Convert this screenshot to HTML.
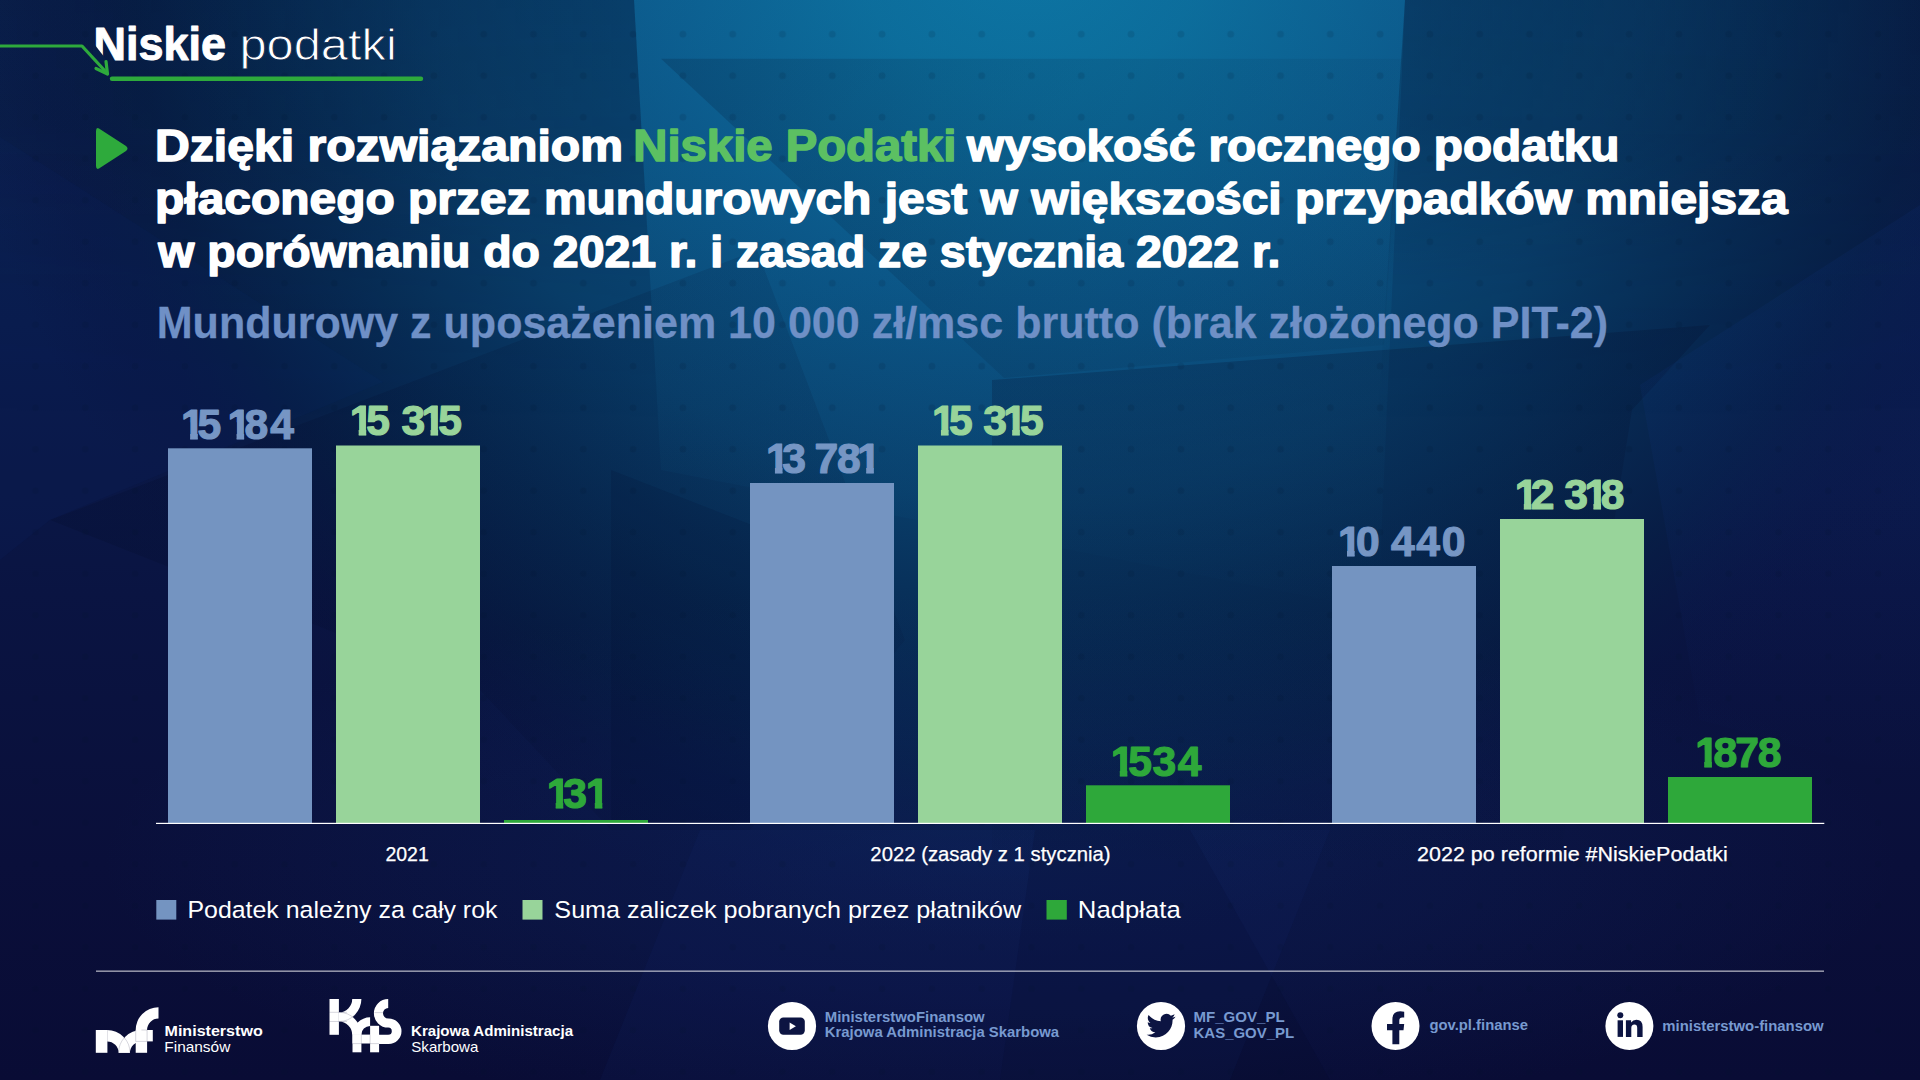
<!DOCTYPE html>
<html lang="pl">
<head>
<meta charset="utf-8">
<title>Niskie podatki – mundurowi</title>
<style>
  html, body { margin: 0; padding: 0; }
  body {
    width: 1920px; height: 1080px; overflow: hidden; position: relative;
    background: #0a0e38;
    font-family: "Liberation Sans", sans-serif;
  }
  svg#stage { position: absolute; left: 0; top: 0; width: 1920px; height: 1080px; display: block; }
  svg text { font-family: "Liberation Sans", sans-serif; }
  .b { font-weight: 700; }
</style>
</head>
<body>
<svg id="stage" viewBox="0 0 1920 1080" width="1920" height="1080">
  <defs>
    <linearGradient id="gBase" x1="0" y1="0" x2="0" y2="1">
      <stop offset="0" stop-color="#0b2350"/>
      <stop offset="0.3" stop-color="#0a1c4b"/>
      <stop offset="0.55" stop-color="#0a1442"/>
      <stop offset="0.8" stop-color="#0a0f3a"/>
      <stop offset="1" stop-color="#090c35"/>
    </linearGradient>
    <radialGradient id="gGlow" cx="1030" cy="-60" r="1000" gradientUnits="userSpaceOnUse" gradientTransform="translate(1030 -60) scale(1.08 1.0) translate(-1030 60)">
      <stop offset="0" stop-color="#0a6d99" stop-opacity="1"/>
      <stop offset="0.16" stop-color="#0a6490" stop-opacity="1"/>
      <stop offset="0.36" stop-color="#0a5080" stop-opacity="0.98"/>
      <stop offset="0.56" stop-color="#09406c" stop-opacity="0.95"/>
      <stop offset="0.72" stop-color="#072c54" stop-opacity="0.88"/>
      <stop offset="0.83" stop-color="#071f46" stop-opacity="0.8"/>
      <stop offset="0.93" stop-color="#091642" stop-opacity="0.35"/>
      <stop offset="1" stop-color="#0a1440" stop-opacity="0"/>
    </radialGradient>
    <radialGradient id="gHaze" cx="1000" cy="860" r="900" gradientUnits="userSpaceOnUse" gradientTransform="translate(1000 860) scale(1 0.3) translate(-1000 -860)">
      <stop offset="0" stop-color="#103c84" stop-opacity="0.24"/>
      <stop offset="0.5" stop-color="#103c84" stop-opacity="0.15"/>
      <stop offset="1" stop-color="#103c84" stop-opacity="0"/>
    </radialGradient>
    <linearGradient id="gBeam" x1="0" y1="0" x2="0" y2="620" gradientUnits="userSpaceOnUse">
      <stop offset="0" stop-color="#1590c8" stop-opacity="0.22"/>
      <stop offset="0.25" stop-color="#1590c8" stop-opacity="0.17"/>
      <stop offset="0.6" stop-color="#1590c8" stop-opacity="0.08"/>
      <stop offset="1" stop-color="#1590c8" stop-opacity="0"/>
    </linearGradient>
    <linearGradient id="gSideL" x1="635" y1="0" x2="0" y2="0" gradientUnits="userSpaceOnUse">
      <stop offset="0" stop-color="#04102e" stop-opacity="0.25"/>
      <stop offset="1" stop-color="#04102e" stop-opacity="0.12"/>
    </linearGradient>
    <linearGradient id="gSideR" x1="1400" y1="0" x2="1920" y2="0" gradientUnits="userSpaceOnUse">
      <stop offset="0" stop-color="#04102e" stop-opacity="0.30"/>
      <stop offset="1" stop-color="#04102e" stop-opacity="0.10"/>
    </linearGradient>
    <linearGradient id="gFadeDown" x1="0" y1="330" x2="0" y2="860" gradientUnits="userSpaceOnUse">
      <stop offset="0" stop-color="#041030" stop-opacity="0.26"/>
      <stop offset="1" stop-color="#041030" stop-opacity="0.05"/>
    </linearGradient>
    <linearGradient id="gFacetR" x1="0" y1="205" x2="0" y2="780" gradientUnits="userSpaceOnUse">
      <stop offset="0" stop-color="#1848c0" stop-opacity="0.07"/>
      <stop offset="0.5" stop-color="#1848c0" stop-opacity="0.06"/>
      <stop offset="1" stop-color="#1848c0" stop-opacity="0"/>
    </linearGradient>
    <linearGradient id="gVFade" x1="0" y1="0" x2="0" y2="420" gradientUnits="userSpaceOnUse">
      <stop offset="0" stop-color="#fff"/>
      <stop offset="0.3" stop-color="#ddd"/>
      <stop offset="0.68" stop-color="#333"/>
      <stop offset="1" stop-color="#000"/>
    </linearGradient>
    <mask id="mTop" maskUnits="userSpaceOnUse" x="0" y="0" width="1920" height="460"><rect width="1920" height="460" fill="url(#gVFade)"/></mask>
    <linearGradient id="gInner" x1="662" y1="0" x2="1400" y2="0" gradientUnits="userSpaceOnUse">
      <stop offset="0" stop-color="#04203f" stop-opacity="0.24"/>
      <stop offset="0.45" stop-color="#04203f" stop-opacity="0.15"/>
      <stop offset="1" stop-color="#04203f" stop-opacity="0.07"/>
    </linearGradient>
    <linearGradient id="gStar" x1="50" y1="0" x2="900" y2="0" gradientUnits="userSpaceOnUse">
      <stop offset="0" stop-color="#030c2c" stop-opacity="0.26"/>
      <stop offset="0.5" stop-color="#030c2c" stop-opacity="0.16"/>
      <stop offset="1" stop-color="#030c2c" stop-opacity="0.10"/>
    </linearGradient>
    <pattern id="dots" x="10.6" y="13.45" width="49.8" height="41.5" patternUnits="userSpaceOnUse">
      <circle cx="24.9" cy="20.75" r="3.5" fill="#03102c" fill-opacity="0.12"/>
    </pattern>
    <clipPath id="one"><path d="M-2,-31.95 H16.69 V1.28 H9.04 V-17.04 H-2 Z"/></clipPath>
  </defs>

  <!-- BACKGROUND -->
  <g id="bg">
    <rect width="1920" height="1080" fill="url(#gBase)"/>
    <rect width="1920" height="1080" fill="url(#gGlow)"/>
    <rect width="1920" height="1080" fill="url(#gHaze)"/>
    <g id="polys">
      <!-- central light beam -->
      <polygon points="634,0 1405,0 1378,610 661,470" fill="url(#gBeam)"/>
      <!-- darker sides at the top -->
      <polygon points="0,0 634,0 660,450 0,450" fill="url(#gSideL)" mask="url(#mTop)"/>
      <polygon points="1405,0 1920,0 1920,450 1376,450" fill="url(#gSideR)" mask="url(#mTop)"/>
      <!-- big inner polygon below y=59 -->
      <polygon points="661,58.8 1402,58.8 1384,345 1004,378" fill="url(#gInner)"/>
      <!-- light sliver left of the diagonal -->
      
      <!-- left blue facet -->
      <polygon points="0,137 383,382 50,520 0,560" fill="#1848c0" fill-opacity="0.045"/>
      <!-- dark star, left-centre -->
      <polygon points="50,520 757,250 905,640 750,830 611,830 480,690" fill="url(#gStar)"/>
      <polygon points="611,470 880,575 860,823 611,823" fill="#030c2c" fill-opacity="0.12"/>
      <!-- dark polygon, right-centre -->
      <polygon points="992,380 1710,325 1632,410 1560,860 992,860" fill="url(#gFadeDown)"/>
      <!-- right blue facet -->
      <polygon points="1920,205 1640,385 1700,720 1920,780" fill="url(#gFacetR)"/>
      <!-- faint bottom facets -->
      <polygon points="1035,830 1190,830 1330,1080 1000,1080" fill="#030a26" fill-opacity="0.20"/>
      <polygon points="700,830 1330,830 1230,1080 600,1080" fill="#1c4cb0" fill-opacity="0.06"/>
    </g>
    <rect width="1920" height="1080" fill="url(#dots)"/>
  </g>

  <!-- HEADER LOGO -->
  <g id="brand">
    <line x1="112" y1="78.8" x2="421" y2="78.8" stroke="#2eaa3c" stroke-width="4.4" stroke-linecap="round"/>
    <text x="93.49" y="60.00" font-size="45.5" font-weight="700" fill="#ffffff" stroke="#ffffff" stroke-width="1.00" stroke-linejoin="round" textLength="132.55" lengthAdjust="spacingAndGlyphs">Niskie</text>
    <text x="239.41" y="60.00" font-size="45" fill="#ffffff" stroke="#07274e" stroke-width="0.90" stroke-linejoin="round" textLength="157.33" lengthAdjust="spacingAndGlyphs">podatki</text>
    <polygon points="93,42.5 93,62 108.2,62" fill="#071f49"/>
    <path d="M0 46 H82 L106 72" fill="none" stroke="#2eaa3c" stroke-width="3.2" stroke-linejoin="round"/>
    <path d="M96 68.5 L107.5 74 L106 61.5" fill="none" stroke="#2eaa3c" stroke-width="3.2" stroke-linecap="round" stroke-linejoin="round"/>
  </g>

  <!-- TITLE -->
  <g id="title">
    <path d="M99 128.5 L126 146 Q129 148.5 126 151 L99 168.5 Q96 170 96 166 V131 Q96 127 99 128.5 Z" fill="#2eaa3c"/>
    <text x="155.03" y="161.20" font-size="44.0" font-weight="700" fill="#ffffff" stroke="#ffffff" stroke-width="1.50" stroke-linejoin="round" textLength="467.95" lengthAdjust="spacingAndGlyphs">Dzięki rozwiązaniom</text>
    <text x="633.34" y="161.20" font-size="44.0" font-weight="700" fill="#5cc062" stroke="#5cc062" stroke-width="1.50" stroke-linejoin="round" textLength="323.01" lengthAdjust="spacingAndGlyphs">Niskie Podatki</text>
    <text x="967.14" y="161.20" font-size="44.0" font-weight="700" fill="#ffffff" stroke="#ffffff" stroke-width="1.50" stroke-linejoin="round" textLength="652.26" lengthAdjust="spacingAndGlyphs">wysokość rocznego podatku</text>
    <text x="155.09" y="214.20" font-size="44.0" font-weight="700" fill="#ffffff" stroke="#ffffff" stroke-width="1.50" stroke-linejoin="round" textLength="1632.61" lengthAdjust="spacingAndGlyphs">płaconego przez mundurowych jest w większości przypadków mniejsza</text>
    <text x="158.39" y="267.20" font-size="44.0" font-weight="700" fill="#ffffff" stroke="#ffffff" stroke-width="1.50" stroke-linejoin="round" textLength="1122.06" lengthAdjust="spacingAndGlyphs">w porównaniu do 2021 r. i zasad ze stycznia 2022 r.</text>
    <text x="156.77" y="337.50" font-size="43.5" font-weight="700" fill="#6f90c6" stroke="#6f90c6" stroke-width="0.30" stroke-linejoin="round" textLength="1451.22" lengthAdjust="spacingAndGlyphs">Mundurowy z uposażeniem 10 000 zł/msc brutto (brak złożonego PIT-2)</text>
  </g>

  <!-- CHART -->
  <g id="chart">
    <g fill="#7494c1">
      <rect x="168" y="448.3" width="144" height="374.7"/>
      <rect x="750" y="483" width="144" height="340"/>
      <rect x="1332" y="566" width="144" height="257"/>
    </g>
    <g fill="#98d49a">
      <rect x="336" y="445.5" width="144" height="377.5"/>
      <rect x="918" y="445.5" width="144" height="377.5"/>
      <rect x="1500" y="519" width="144" height="304"/>
    </g>
    <g fill="#2ea83a">
      <rect x="504" y="820" width="144" height="3"/>
      <rect x="1086" y="785.3" width="144" height="37.7"/>
      <rect x="1668" y="777" width="144" height="46"/>
    </g>
    <rect x="156" y="822.8" width="1668.3" height="1.2" fill="#ffffff"/>

    <g id="values" font-weight="700" font-size="42.6" stroke-width="1.2" stroke-linejoin="round">
      <g fill="#7696c4" stroke="#7696c4"><g transform="translate(181.10 439.30)" clip-path="url(#one)"><text x="0" y="0">1</text></g><text x="197.39" y="439.30">5</text><g transform="translate(227.55 439.30)" clip-path="url(#one)"><text x="0" y="0">1</text></g><text x="244.38" y="439.30">8</text><text x="270.20" y="439.30">4</text></g>
      <g fill="#98d49a" stroke="#98d49a"><g transform="translate(349.65 435.00)" clip-path="url(#one)"><text x="0" y="0">1</text></g><text x="366.29" y="435.00">5</text><text x="401.38" y="435.00">3</text><g transform="translate(421.50 435.00)" clip-path="url(#one)"><text x="0" y="0">1</text></g><text x="438.29" y="435.00">5</text></g>
      <g fill="#2ea83a" stroke="#2ea83a"><g transform="translate(546.65 807.60)" clip-path="url(#one)"><text x="0" y="0">1</text></g><text x="563.33" y="807.60">3</text><g transform="translate(585.75 807.60)" clip-path="url(#one)"><text x="0" y="0">1</text></g></g>
      <g fill="#7696c4" stroke="#7696c4"><g transform="translate(765.90 473.20)" clip-path="url(#one)"><text x="0" y="0">1</text></g><text x="782.33" y="473.20">3</text><text x="814.42" y="473.20">7</text><text x="837.03" y="473.20">8</text><g transform="translate(857.15 473.20)" clip-path="url(#one)"><text x="0" y="0">1</text></g></g>
      <g fill="#98d49a" stroke="#98d49a"><g transform="translate(931.90 435.00)" clip-path="url(#one)"><text x="0" y="0">1</text></g><text x="948.94" y="435.00">5</text><text x="983.23" y="435.00">3</text><g transform="translate(1003.15 435.00)" clip-path="url(#one)"><text x="0" y="0">1</text></g><text x="1019.89" y="435.00">5</text></g>
      <g fill="#2ea83a" stroke="#2ea83a"><g transform="translate(1110.75 776.00)" clip-path="url(#one)"><text x="0" y="0">1</text></g><text x="1128.34" y="776.00">5</text><text x="1152.48" y="776.00">3</text><text x="1177.75" y="776.00">4</text></g>
      <g fill="#7696c4" stroke="#7696c4"><g transform="translate(1337.95 556.00)" clip-path="url(#one)"><text x="0" y="0">1</text></g><text x="1356.09" y="556.00">0</text><text x="1391.00" y="556.00">4</text><text x="1416.25" y="556.00">4</text><text x="1441.74" y="556.00">0</text></g>
      <g fill="#98d49a" stroke="#98d49a"><g transform="translate(1514.80 509.30)" clip-path="url(#one)"><text x="0" y="0">1</text></g><text x="1530.77" y="509.30">2</text><text x="1564.28" y="509.30">3</text><g transform="translate(1584.40 509.30)" clip-path="url(#one)"><text x="0" y="0">1</text></g><text x="1600.63" y="509.30">8</text></g>
      <g fill="#2ea83a" stroke="#2ea83a"><g transform="translate(1695.20 767.20)" clip-path="url(#one)"><text x="0" y="0">1</text></g><text x="1713.53" y="767.20">8</text><text x="1735.27" y="767.20">7</text><text x="1757.78" y="767.20">8</text></g>
    </g>

    <g id="axis">
      <text x="385.39" y="861.20" font-size="20.5" fill="#ffffff" stroke="#ffffff" stroke-width="0.25" stroke-linejoin="round" textLength="43.44" lengthAdjust="spacingAndGlyphs">2021</text>
      <text x="870.35" y="861.20" font-size="20.5" fill="#ffffff" stroke="#ffffff" stroke-width="0.25" stroke-linejoin="round" textLength="240.28" lengthAdjust="spacingAndGlyphs">2022 (zasady z 1 stycznia)</text>
      <text x="1417.04" y="861.20" font-size="20.5" fill="#ffffff" stroke="#ffffff" stroke-width="0.25" stroke-linejoin="round" textLength="310.78" lengthAdjust="spacingAndGlyphs">2022 po reformie #NiskiePodatki</text>
    </g>

    <g id="legend">
      <rect x="156.3" y="900" width="20" height="19.6" fill="#7494c1"/>
      <rect x="522.5" y="900" width="20" height="19.6" fill="#98d49a"/>
      <rect x="1046.5" y="900" width="20.3" height="19.6" fill="#2ea83a"/>
      <text x="187.46" y="918.00" font-size="24.3" fill="#ffffff" textLength="310.01" lengthAdjust="spacingAndGlyphs">Podatek należny za cały rok</text>
      <text x="554.36" y="918.00" font-size="24.3" fill="#ffffff" textLength="466.83" lengthAdjust="spacingAndGlyphs">Suma zaliczek pobranych przez płatników</text>
      <text x="1077.89" y="918.00" font-size="24.3" fill="#ffffff" textLength="102.91" lengthAdjust="spacingAndGlyphs">Nadpłata</text>
    </g>
  </g>

  <!-- FOOTER -->
  <g id="footer">
    <rect x="96" y="970.4" width="1728" height="1.6" fill="#ffffff" fill-opacity="0.55"/>

    <!-- Ministerstwo Finansow logo -->
    <g id="mf" fill="#fff">
      <rect x="95.8" y="1030" width="11.6" height="22.8"/>
      <path d="M107.2 1030 A22.8 22.8 0 0 1 130 1052.8 H118.6 A11.4 11.4 0 0 0 107.2 1041.4 Z"/>
      <path d="M118.6 1052.8 A22.8 22.8 0 0 1 141.4 1030 V1041.4 A11.4 11.4 0 0 0 130 1052.8 Z"/>
      <rect x="135.7" y="1030" width="11.4" height="22.8"/>
      <rect x="135.7" y="1030" width="17.1" height="11.4"/>
      <path d="M135.7 1030.2 A22.8 22.8 0 0 1 158.5 1007.2 V1018.6 A11.4 11.4 0 0 0 147.1 1030.2 Z"/>
      <g stroke="#0a0e38" stroke-opacity="0.28" stroke-width="0.6" fill="none">
        <path d="M135.7 1030 V1041.4 M147.1 1030 V1041.4 M135.7 1041.4 H147.1 M141.4 1030 H147.1"/>
        <path d="M118.6 1052.8 A22.8 22.8 0 0 1 124.3 1037.7 M130 1052.8 A22.8 22.8 0 0 0 124.3 1037.7"/>
      </g>
    </g>

    <!-- Krajowa Administracja Skarbowa logo -->
    <g id="kas" fill="#fff">
      <rect x="329.5" y="999" width="9.4" height="35.8"/>
      <path d="M338.9 1012.3 A13.3 13.3 0 0 0 352.2 999 H361.4 A22.5 22.5 0 0 1 338.9 1021.5 Z"/>
      <path d="M338.9 1012.3 A22.5 22.5 0 0 1 361.4 1034.8 H352.2 A13.3 13.3 0 0 0 338.9 1021.5 Z"/>
      <rect x="352.5" y="1034.6" width="8.9" height="17.7"/>
      <path d="M352.6 1034.8 A17.5 17.5 0 0 1 370.1 1017.3 V1026 A8.8 8.8 0 0 0 361.3 1034.8 Z"/>
      <rect x="370.1" y="1025.8" width="9" height="26.5"/>
      <rect x="352.5" y="1034.6" width="26.6" height="9"/>
      <path d="M388.2 999 A14.3 14.3 0 0 0 388.2 1027.6 A3.6 3.6 0 0 1 388.2 1034.8 H378.9 V1043.9 H388.6 A12.9 12.7 0 0 0 388.6 1018.5 H388.2 A5.2 5.2 0 0 1 388.2 1008.1 Z"/>
      <g stroke="#0a0e38" stroke-opacity="0.28" stroke-width="0.6" fill="none">
        <path d="M329.5 1012.3 H347 M329.5 1021.5 H347 M361.3 1034.8 V1043.6 M370.1 1034.8 V1043.6 M352.5 1043.6 H379.1 M374.5 1012.6 H393"/>
        <path d="M338.9 1021.5 A22.5 22.5 0 0 0 354.8 1014.9 M338.9 1012.3 A22.5 22.5 0 0 1 354.8 1018.9"/>
      </g>
    </g>

    <!-- social media -->
    <g id="social">
      <circle cx="792" cy="1026" r="24.1" fill="#fff"/>
      <rect x="779.2" y="1017.4" width="25.6" height="17.4" rx="4.2" fill="#0c1442"/>
      <polygon points="789.6,1022.4 795.9,1026.2 789.6,1030" fill="#fff"/>

      <circle cx="1161" cy="1026" r="24.1" fill="#fff"/>
      <path transform="translate(1146.6 1011.2) scale(1.205)" fill="#0c1442" d="M23.953 4.57a10 10 0 01-2.825.775 4.958 4.958 0 002.163-2.723c-.951.555-2.005.959-3.127 1.184a4.92 4.92 0 00-8.384 4.482C7.69 8.095 4.067 6.13 1.64 3.162a4.822 4.822 0 00-.666 2.475c0 1.71.87 3.213 2.188 4.096a4.904 4.904 0 01-2.228-.616v.06a4.923 4.923 0 003.946 4.827 4.996 4.996 0 01-2.212.085 4.936 4.936 0 004.604 3.417 9.867 9.867 0 01-6.102 2.105c-.39 0-.779-.023-1.17-.067a13.995 13.995 0 007.557 2.209c9.053 0 13.998-7.496 13.998-13.985 0-.21 0-.42-.015-.63A9.935 9.935 0 0024 4.59z"/>

      <circle cx="1395.5" cy="1026" r="24" fill="#fff"/>
      <path fill="#0c1442" d="M1399.3 1044.2 V1030.2 H1403.5 L1404.2 1024 H1399.3 V1020.6 Q1399.3 1017.4 1402.2 1017.4 H1404.2 V1011.7 Q1402.2 1011.3 1400.2 1011.3 Q1392.4 1011.3 1392.4 1019.2 V1024 H1387 V1030.2 H1392.4 V1044.2 Z"/>

      <circle cx="1629.4" cy="1026" r="24" fill="#fff"/>
      <g fill="#0c1442">
        <circle cx="1620.3" cy="1015.2" r="3"/>
        <rect x="1617.6" y="1020.3" width="5.4" height="16.6"/>
        <path d="M1625.9 1020.3 H1631.1 V1022.6 Q1632.9 1019.8 1636.4 1019.8 Q1642.6 1019.8 1642.6 1027 V1036.9 H1637.2 V1027.8 Q1637.2 1024.4 1634.4 1024.4 Q1631.3 1024.4 1631.3 1028 V1036.9 H1625.9 Z"/>
      </g>
    </g>

    <text x="164.53" y="1036.30" font-size="15" font-weight="700" fill="#ffffff" textLength="98.20" lengthAdjust="spacingAndGlyphs">Ministerstwo</text>
    <text x="164.34" y="1052.40" font-size="15" fill="#ffffff" textLength="65.93" lengthAdjust="spacingAndGlyphs">Finansów</text>
    <text x="410.99" y="1036.30" font-size="15" font-weight="700" fill="#ffffff" textLength="162.11" lengthAdjust="spacingAndGlyphs">Krajowa Administracja</text>
    <text x="411.31" y="1052.40" font-size="15" fill="#ffffff" textLength="67.09" lengthAdjust="spacingAndGlyphs">Skarbowa</text>
    <text x="824.80" y="1021.50" font-size="15" font-weight="700" fill="#789ad0" textLength="159.87" lengthAdjust="spacingAndGlyphs">MinisterstwoFinansow</text>
    <text x="824.81" y="1037.40" font-size="15" font-weight="700" fill="#789ad0" textLength="234.30" lengthAdjust="spacingAndGlyphs">Krajowa Administracja Skarbowa</text>
    <text x="1193.49" y="1021.70" font-size="15" font-weight="700" fill="#789ad0" textLength="91.17" lengthAdjust="spacingAndGlyphs">MF_GOV_PL</text>
    <text x="1193.50" y="1037.50" font-size="15" font-weight="700" fill="#789ad0" textLength="100.76" lengthAdjust="spacingAndGlyphs">KAS_GOV_PL</text>
    <text x="1429.39" y="1030.20" font-size="15" font-weight="700" fill="#789ad0" textLength="98.62" lengthAdjust="spacingAndGlyphs">gov.pl.finanse</text>
    <text x="1662.27" y="1030.80" font-size="15" font-weight="700" fill="#789ad0" textLength="161.45" lengthAdjust="spacingAndGlyphs">ministerstwo-finansow</text>
  </g>
</svg>
</body>
</html>
